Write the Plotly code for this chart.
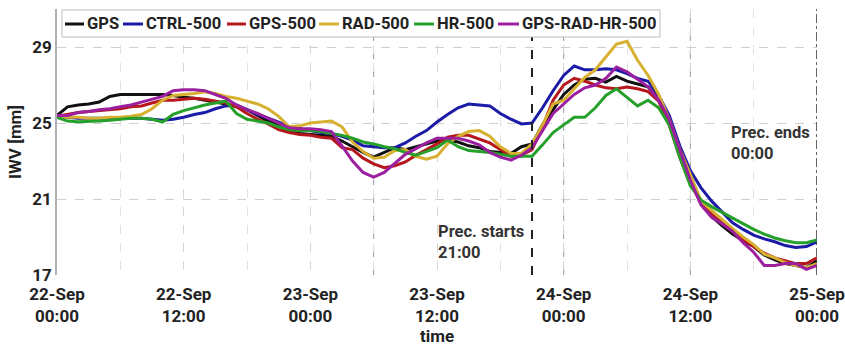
import pandas as pd
import plotly.graph_objects as go

# hourly time axis, 22-Sep 00:00 to 25-Sep 00:00
times = pd.date_range("2018-09-22 00:00", periods=73, freq="h")

gps = [25.4, 25.85, 25.95, 26.0, 26.1, 26.4, 26.5, 26.5, 26.5, 26.5, 26.5, 26.45,
       26.35, 26.3, 26.2, 26.1, 26.0, 25.85, 25.7, 25.4, 25.1, 24.85, 24.55, 24.45,
       24.4, 24.35, 24.3, 24.05, 23.75, 23.45, 23.2, 23.45, 23.7, 23.6, 23.75, 23.9,
       24.05, 24.1, 24.0, 23.8, 23.7, 23.5, 23.45, 23.4, 23.75, 23.9, 24.9, 25.7,
       26.5, 27.0, 27.3, 27.35, 27.15, 27.45, 27.2, 27.05, 26.9, 26.3, 25.2, 23.4,
       21.9, 20.8, 20.1, 19.6, 19.15, 18.8, 18.5, 18.05, 17.8, 17.6, 17.5, 17.4, 17.75]

ctrl_500 = [25.35, 25.3, 25.25, 25.25, 25.25, 25.25, 25.25, 25.25, 25.25, 25.2, 25.15, 25.2,
            25.3, 25.45, 25.55, 25.75, 25.9, 25.95, 25.7, 25.45, 25.25, 25.05, 24.8, 24.7,
            24.6, 24.5, 24.45, 24.3, 24.1, 23.8, 23.75, 23.7, 23.7, 23.95, 24.3, 24.6,
            25.05, 25.45, 25.8, 26.0, 25.95, 25.9, 25.5, 25.2, 24.95, 25.0, 25.8, 26.7,
            27.5, 28.0, 27.8, 27.8, 27.85, 27.8, 27.6, 27.35, 27.2, 26.45, 25.4, 23.8,
            22.5, 21.6, 20.9, 20.3, 19.75, 19.4, 19.1, 18.9, 18.75, 18.55, 18.45, 18.5, 18.75]

gps_500 = [25.35, 25.45, 25.55, 25.6, 25.65, 25.7, 25.75, 25.85, 25.9, 26.05, 26.2, 26.2,
           26.25, 26.3, 26.25, 26.15, 26.05, 25.85, 25.5, 25.2, 24.95, 24.65, 24.5, 24.4,
           24.35, 24.25, 24.2, 23.7, 23.6, 23.15, 22.85, 22.65, 22.75, 22.95, 23.3, 23.6,
           23.9, 24.25, 24.35, 24.35, 24.15, 23.95, 23.6, 23.25, 23.3, 23.6, 24.8, 26.2,
           27.0, 27.35, 27.2, 27.0, 26.85, 26.8, 26.9, 26.8, 26.65, 26.15, 24.9, 23.2,
           21.8, 20.85, 20.2, 19.75, 19.3, 18.85, 18.5, 18.15, 17.9, 17.75, 17.6, 17.6, 17.9]

rad_500 = [25.3, 25.3, 25.3, 25.25, 25.25, 25.3, 25.3, 25.35, 25.45, 25.75, 26.2, 26.45,
           26.5, 26.55, 26.65, 26.55, 26.4, 26.3, 26.15, 26.0, 25.75, 25.35, 24.8, 24.85,
           25.0, 25.05, 25.1, 24.8, 24.0, 23.5, 23.15, 23.2, 23.55, 23.6, 23.25, 23.1,
           23.25, 23.9, 24.3, 24.55, 24.6, 24.3, 23.75, 23.4, 23.4, 23.9, 24.9, 26.0,
           26.2, 26.8, 27.4, 27.8, 28.5, 29.15, 29.3, 28.3, 27.5, 26.5, 25.2, 23.6,
           22.3, 20.9, 20.4, 19.9, 19.45, 19.0, 18.6, 18.1, 17.9, 17.65, 17.5, 17.4, 17.6]

hr_500 = [25.3, 25.1, 25.07, 25.07, 25.1, 25.15, 25.2, 25.25, 25.25, 25.2, 25.05, 25.45,
          25.65, 25.8, 25.95, 26.05, 26.15, 25.5, 25.2, 25.1, 25.0, 24.8, 24.65, 24.6,
          24.6, 24.55, 24.45, 24.35, 24.2, 24.0, 23.9, 23.75, 23.65, 23.45, 23.3, 23.5,
          23.7, 24.1, 23.75, 23.55, 23.5, 23.45, 23.35, 23.25, 23.25, 23.25, 23.85, 24.5,
          24.9, 25.3, 25.3, 25.8, 26.45, 26.8, 26.35, 25.9, 26.2, 25.8, 24.9, 23.2,
          21.7, 20.95, 20.6, 20.3, 20.0, 19.7, 19.4, 19.15, 18.95, 18.8, 18.7, 18.7, 18.85]

gps_rad_hr_500 = [25.4, 25.4, 25.55, 25.6, 25.7, 25.75, 25.85, 25.95, 26.1, 26.25, 26.4, 26.7,
                  26.75, 26.75, 26.7, 26.5, 26.3, 25.95, 25.7, 25.5, 25.25, 25.0, 24.75, 24.7,
                  24.7, 24.65, 24.55, 23.8, 23.0, 22.4, 22.15, 22.4, 22.85, 23.35, 23.65, 23.95,
                  24.2, 24.2, 24.2, 24.05, 23.85, 23.45, 23.2, 23.05, 23.3, 23.7, 24.6, 25.5,
                  26.0, 26.5, 26.85, 27.0, 27.35, 27.95, 27.7, 27.3, 26.9, 26.2, 25.2, 23.6,
                  22.0, 20.7, 20.05, 19.7, 19.3, 18.7, 18.2, 17.5, 17.5, 17.6, 17.6, 17.3, 17.5]

series_names = ["GPS", "CTRL-500", "GPS-500", "RAD-500", "HR-500", "GPS-RAD-HR-500"]
series_values = [gps, ctrl_500, gps_500, rad_500, hr_500, gps_rad_hr_500]
series_colors = ["#111111", "#1b1ba8", "#b5171c", "#d6b02e", "#25a02a", "#9b1f9e"]

y_ticks = [17, 21, 25, 29]
prec_start = "2018-09-23 21:00"
prec_end = "2018-09-25 00:00"
dark_grid = ["2018-09-23 06:00", "2018-09-24 00:00", "2018-09-24 12:00"]

FONT = "Roboto"
W, H = 845, 346
M_L, M_R, M_T, M_B = 57, 28, 9, 71
PW, PH = W - M_L - M_R, H - M_T - M_B


def px(xp):
    """pixel column -> paper x (plot-area fraction)"""
    return (xp - M_L) / PW


def py(yp):
    """pixel row -> paper y (plot-area fraction)"""
    return (H - M_B - yp) / PH


fig = go.Figure()
for name, vals, col in zip(series_names, series_values, series_colors):
    fig.add_trace(go.Scatter(x=times, y=vals, name=name, mode="lines",
                             line=dict(color=col, width=3), showlegend=False))

shapes = []
for t in dark_grid:
    shapes.append(dict(type="line", xref="x", yref="paper", x0=t, x1=t, y0=0, y1=1,
                       line=dict(color="#9a9a9a", width=1, dash="dash"), layer="below"))
shapes.append(dict(type="line", xref="x", yref="paper", x0=prec_start, x1=prec_start,
                   y0=0, y1=1, line=dict(color="#222222", width=2, dash="dash")))
shapes.append(dict(type="line", xref="x", yref="paper", x0=prec_end, x1=prec_end,
                   y0=0, y1=1, line=dict(color="#333333", width=1.5, dash="dashdot")))

annot_font = dict(family=FONT, size=16.5, color="#333333", weight="bold")
annotations = [
    dict(x="2018-09-23 11:54", y=18.75, xref="x", yref="y", xanchor="left", yanchor="middle",
         text="Prec. starts<br>21:00", showarrow=False, align="left", font=annot_font),
    dict(x="2018-09-24 15:40", y=23.95, xref="x", yref="y", xanchor="left", yanchor="middle",
         text="Prec. ends<br>00:00", showarrow=False, align="left", font=annot_font),
]

# compact horizontal legend box: short line swatch followed by the series name
legend_box = (62, 660, 10, 37)
legend_slots = [(65, 84), (123, 143), (227, 246), (319, 339), (414, 434), (498, 519)]
legend_mid = 24
shapes.append(dict(type="rect", xref="paper", yref="paper",
                   x0=px(legend_box[0]), x1=px(legend_box[1]),
                   y0=py(legend_box[3]), y1=py(legend_box[2]),
                   fillcolor="white", line=dict(color="#bdbdbd", width=1)))
for (s0, s1), name, col in zip(legend_slots, series_names, series_colors):
    shapes.append(dict(type="line", xref="paper", yref="paper",
                       x0=px(s0), x1=px(s1), y0=py(legend_mid), y1=py(legend_mid),
                       line=dict(color=col, width=3)))
    annotations.append(dict(x=px(s1 + 1), y=py(legend_mid), xref="paper", yref="paper",
                            xanchor="left", yanchor="middle", text=name, showarrow=False,
                            font=dict(family=FONT, size=16.5, color="#222222", weight="bold")))

tick_font = dict(family=FONT, size=17, color="#222222", weight="bold")
title_font = dict(family=FONT, size=17, color="#222222", weight="bold")

fig.update_layout(
    width=W, height=H,
    margin=dict(l=M_L, r=M_R, t=M_T, b=M_B),
    paper_bgcolor="white", plot_bgcolor="white",
    font=dict(family=FONT, size=15, color="#222222"),
    shapes=shapes,
    annotations=annotations,
    xaxis=dict(
        type="date",
        range=["2018-09-22 00:00", "2018-09-25 00:00"],
        dtick=12 * 3600 * 1000,
        tick0="2018-09-22 00:00",
        tickformat="%d-%b<br>%H:%M",
        tickfont=tick_font,
        ticklabelstandoff=7,
        automargin=False,
        showgrid=True, gridcolor="#d6d6d6", griddash="dash", gridwidth=1,
        minor=dict(dtick=6 * 3600 * 1000, showgrid=True, gridcolor="#e2e2e2",
                   griddash="dash", ticks=""),
        showline=False, zeroline=False, ticks="",
        title=dict(text="time", font=title_font, standoff=2),
    ),
    yaxis=dict(
        range=[17, 31],
        tickvals=y_ticks,
        tickfont=tick_font,
        automargin=False,
        showgrid=True, gridcolor="#cfcfcf", griddash="dash", gridwidth=1,
        showline=True, linecolor="#b0b0b0", linewidth=1.5,
        zeroline=False, ticks="",
        title=dict(text="IWV [mm]", font=title_font, standoff=6),
    ),
)

fig.write_html("out.html")
